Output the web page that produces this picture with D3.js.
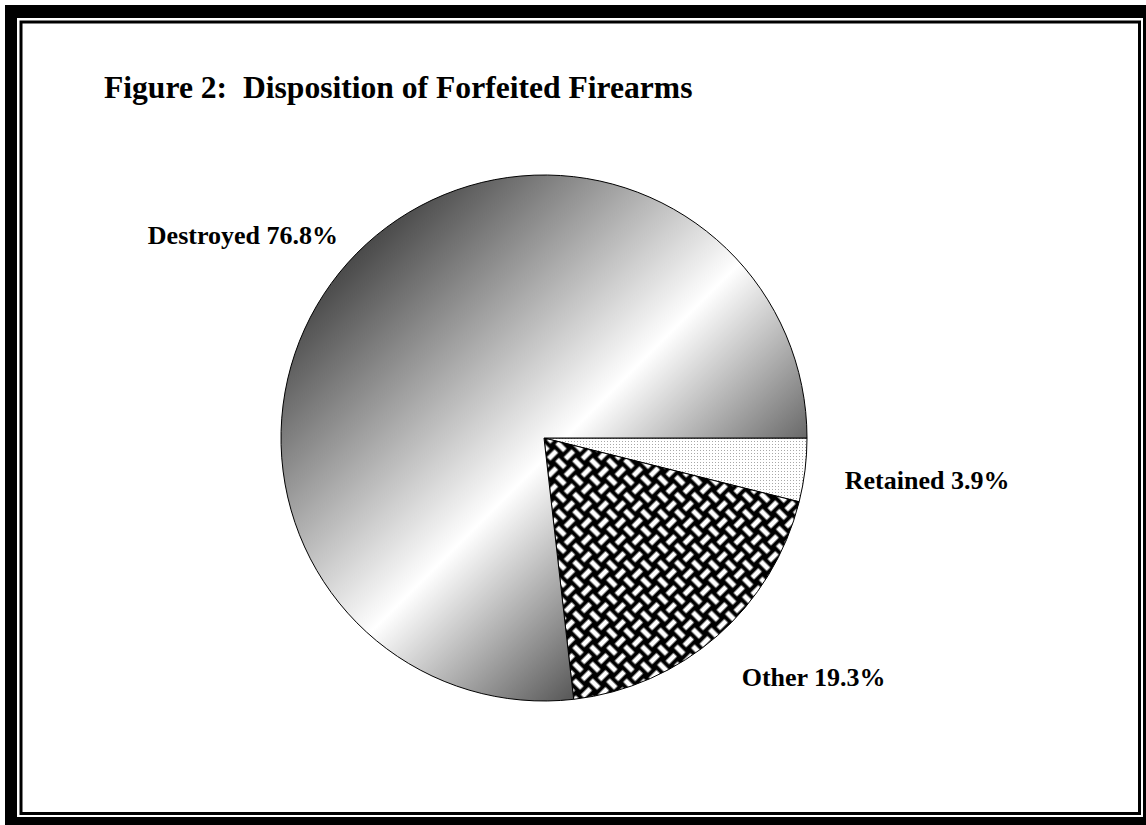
<!DOCTYPE html>
<html>
<head>
<meta charset="utf-8">
<script src="https://cdn.jsdelivr.net/npm/d3@7"></script>
<style>
  body { margin: 0; background: #fff; }
  text { font-family: "Liberation Serif", "Times New Roman", serif; font-weight: bold; fill: #000; }
</style>
</head>
<body>
<div id="chart"></div>
<script>
// data
let categories = ["Retained", "Other", "Destroyed"];
let percents = [3.9, 19.3, 76.8];
let title = "Figure 2:  Disposition of Forfeited Firearms";

let width = 1146, height = 825;

let svg = d3.select("#chart")
    .append("svg")
    .attr("width", width)
    .attr("height", height);

let defs = svg.append("defs");

// frame: thick black shadow border, thin inner rule
svg.append("rect").attr("x", 5).attr("y", 5).attr("width", 1141).attr("height", 820).attr("fill", "#000");
svg.append("rect").attr("x", 17).attr("y", 18).attr("width", 1126).attr("height", 799).attr("fill", "#fff");
svg.append("rect").attr("x", 21).attr("y", 22).attr("width", 1118.5).attr("height", 791.5)
    .attr("fill", "#fff").attr("stroke", "#000").attr("stroke-width", 3);

// title
svg.append("text")
    .attr("x", 104)
    .attr("y", 98)
    .style("font-size", "31.6px")
    .style("white-space", "pre")
    .text(title);

let cx = 544, cy = 438, radius = 263;

// gradient for the big slice (slice-local coordinates)
let grad = defs.append("linearGradient")
    .attr("id", "shade")
    .attr("gradientUnits", "userSpaceOnUse")
    .attr("x1", -radius).attr("y1", -radius)
    .attr("x2", radius).attr("y2", radius);
grad.append("stop").attr("offset", 0.147).attr("stop-color", "#4a4a4a");
grad.append("stop").attr("offset", 0.52).attr("stop-color", "#ffffff");
grad.append("stop").attr("offset", 0.78).attr("stop-color", "#555555");

// fine dotted fill
let dots = defs.append("pattern")
    .attr("id", "dots")
    .attr("patternUnits", "userSpaceOnUse")
    .attr("width", 3).attr("height", 3);
dots.append("rect").attr("width", 3).attr("height", 3).attr("fill", "#fff");
dots.append("rect").attr("width", 1).attr("height", 1).attr("fill", "#a8a8a8");

// weave fill: basket weave turned 45 degrees
let weave = defs.append("pattern")
    .attr("id", "weave")
    .attr("patternUnits", "userSpaceOnUse")
    .attr("width", 24).attr("height", 24)
    .attr("patternTransform", "rotate(45)");
weave.append("rect").attr("width", 24).attr("height", 24).attr("fill", "#000");
[[0.5, 3.5, 11, 5], [15.5, 0.5, 5, 11], [3.5, 12.5, 5, 11], [12.5, 15.5, 11, 5]].forEach(function(b) {
    weave.append("rect")
        .attr("x", b[0]).attr("y", b[1])
        .attr("width", b[2]).attr("height", b[3])
        .attr("fill", "#fff");
});

let fills = d3.scaleOrdinal()
    .domain(categories)
    .range(["url(#dots)", "url(#weave)", "url(#shade)"]);

let pie = d3.pie()
    .sort(null)
    .value(function(d, i) { return percents[i]; })
    .startAngle(Math.PI / 2)
    .endAngle(Math.PI / 2 + 2 * Math.PI);

let slices = pie(categories);

let arc = d3.arc().innerRadius(0).outerRadius(radius);
let labelArc = d3.arc().innerRadius(radius + 40).outerRadius(radius + 40);

let g = svg.append("g")
    .attr("transform", `translate(${cx}, ${cy})`);

g.selectAll("path")
    .data(slices)
    .enter()
    .append("path")
    .attr("d", arc)
    .attr("fill", function(d) { return fills(d.data); })
    .attr("stroke", "#000")
    .attr("stroke-width", 1);

// nudges so labels land where the original put them
let nudge = { "Retained": [0, 5], "Other": [-2, 11], "Destroyed": [20, -1] };

g.selectAll("text.label")
    .data(slices)
    .enter()
    .append("text")
    .attr("class", "label")
    .attr("x", function(d) { return labelArc.centroid(d)[0] + nudge[d.data][0]; })
    .attr("y", function(d) { return labelArc.centroid(d)[1] + nudge[d.data][1]; })
    .attr("dy", "0.35em")
    .style("font-size", "26px")
    .style("text-anchor", function(d) { return (d.startAngle + d.endAngle) / 2 > Math.PI ? "end" : "start"; })
    .text(function(d, i) { return d.data + " " + percents[i] + "%"; });
</script>
</body>
</html>
